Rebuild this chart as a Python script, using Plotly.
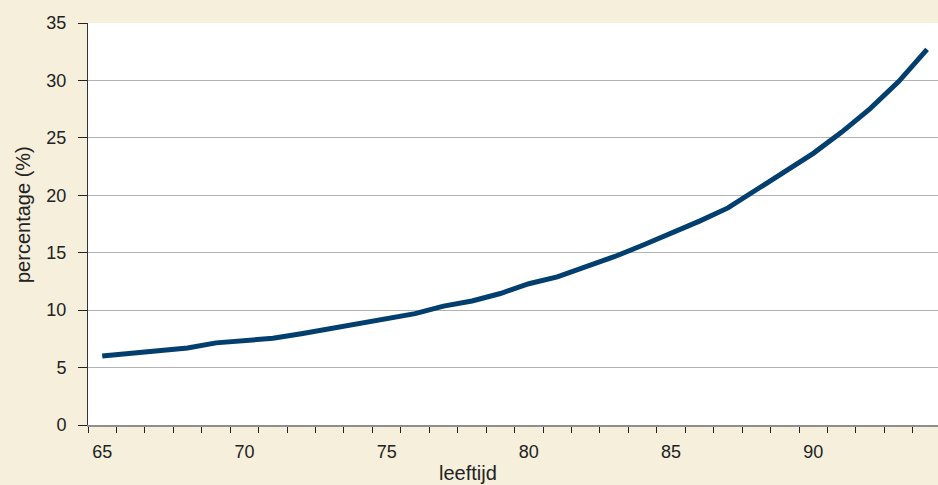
import plotly.graph_objects as go

# leeftijd (age) and percentage
leeftijd = list(range(65, 95))
percentage = [6.0, 6.2, 6.45, 6.7, 7.15, 7.35, 7.55, 7.95, 8.4, 8.8,
              9.25, 9.7, 10.35, 10.8, 11.45, 12.3, 12.9, 13.75, 14.65, 15.65,
              16.65, 17.75, 18.9, 20.5, 22.1, 23.65, 25.5, 27.55, 29.9, 32.7]
x_labels = [65, 70, 75, 80, 85, 90]
y_ticks = [0, 5, 10, 15, 20, 25, 30, 35]

font = "Liberation Sans, Arial, sans-serif"

# plot area in pixels (left, right, top, bottom); the original plot area
# runs ~3px past the right edge of the image, so the x range is trimmed
L, R, T, B = 88, 938, 23, 425
overflow = 3.3 / 28.44

fig = go.Figure()
fig.add_trace(go.Scatter(
    x=leeftijd, y=percentage, mode="lines",
    line=dict(color="#023f6e", width=5),
    hoverinfo="x+y", showlegend=False,
))

fig.update_layout(
    width=938, height=485,
    margin=dict(l=L, r=938 - R, t=T, b=485 - B),
    paper_bgcolor="#f5efdc",
    plot_bgcolor="#ffffff",
    font=dict(family=font, size=18, color="#222222"),
    xaxis=dict(
        range=[64.5, 94.5 - overflow],
        tickvals=x_labels, ticks="", ticklabelstandoff=9,
        showgrid=False, zeroline=False,
        showline=True, linecolor="#8f8f8f", linewidth=2,
        minor=dict(ticks="outside", tick0=64.5, dtick=1, ticklen=6,
                   tickcolor="#222222", tickwidth=1, showgrid=False),
    ),
    yaxis=dict(
        range=[0, 35], tickvals=y_ticks,
        ticks="outside", ticklen=9, tickcolor="#222222",
        ticklabelstandoff=8,
        showgrid=True, gridcolor="#b3b3b3", gridwidth=1,
        zeroline=False,
        showline=True, linecolor="#333333", linewidth=1,
    ),
    annotations=[
        # axis titles, positioned in pixel terms
        dict(text="leeftijd", xref="paper", yref="paper",
             x=(468 - L) / (R - L), y=-(473 - B) / (B - T),
             xanchor="center", yanchor="middle",
             showarrow=False, font=dict(size=20)),
        dict(text="percentage (%)", xref="paper", yref="paper",
             x=-(L - 23) / (R - L), y=(B - 215) / (B - T),
             xanchor="center", yanchor="middle", textangle=-90,
             showarrow=False, font=dict(size=20)),
    ],
)

# drop the page's default body margin so the figure fills the window
fig.write_html("out.html", config={"displayModeBar": False},
               post_script="document.body.style.margin='0';")
